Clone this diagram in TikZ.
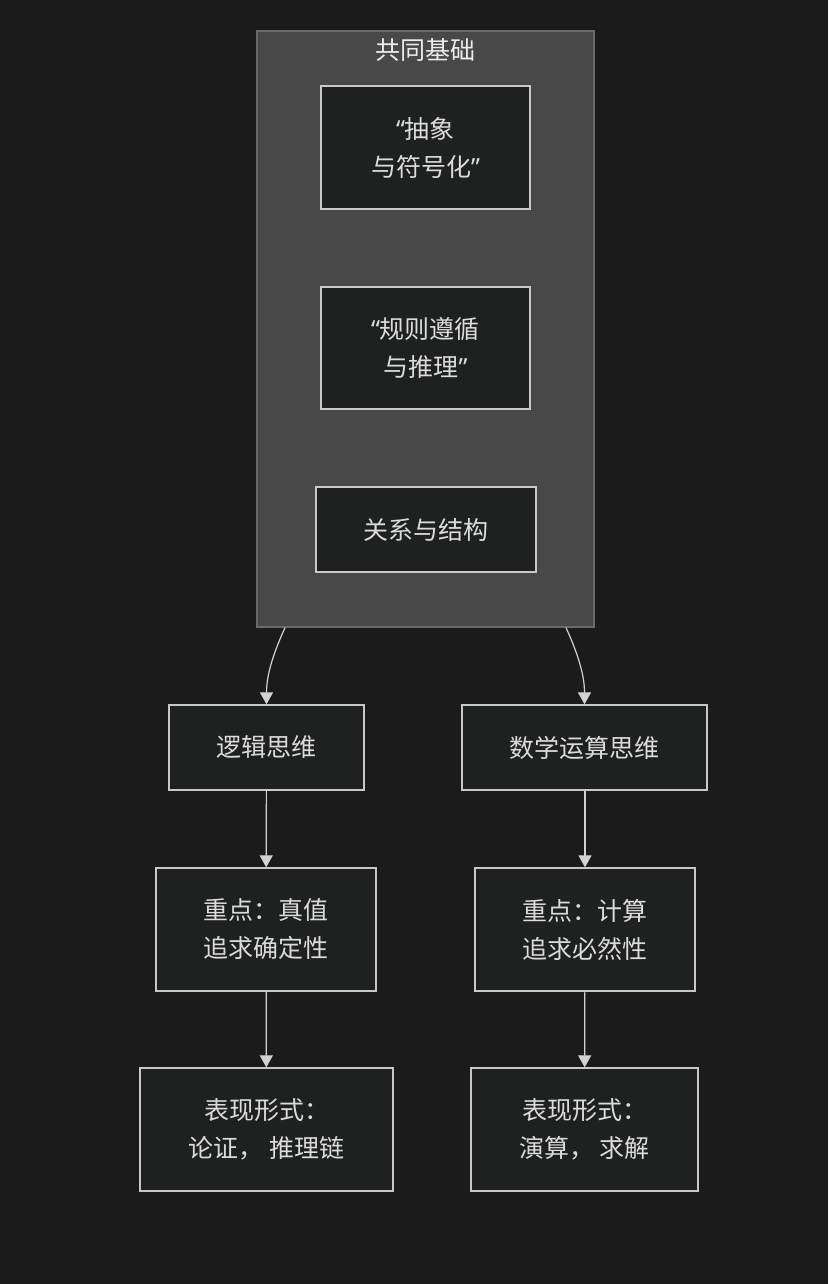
\documentclass[tikz,border=0pt]{standalone}
\usepackage{fontspec}
\setmainfont{Noto Sans CJK SC}
\newfontfamily\quotefont{Noto Sans}
\newcommand{\openq}{{\quotefont “}}
\newcommand{\closeq}{{\quotefont ”}}
\usetikzlibrary{arrows.meta}
\definecolor{bg}{HTML}{1B1B1B}
\definecolor{clusterfill}{HTML}{474847}
\definecolor{clusterline}{HTML}{6A6A6A}
\definecolor{boxfill}{HTML}{1F2020}
\definecolor{boxline}{HTML}{C8C8C8}
\definecolor{txt}{HTML}{DCDCDC}
\definecolor{linkcol}{HTML}{D2D2D2}
\begin{document}
\begin{tikzpicture}[x=1pt, y=-1pt,
    every node/.style={font=\fontsize{25}{38}\selectfont, text=txt},
    box/.style={draw=boxline, line width=1.3pt, fill=boxfill, align=center, inner sep=0pt},
    link/.style={-{Triangle[width=13pt,length=12pt]}, draw=linkcol, line width=1.2pt}]
  \fill[bg] (0,0) rectangle (828,1284);
  % gemeinsame Basis als Gruppe
  \node[draw=clusterline, fill=clusterfill, line width=1.3pt,
        minimum width=337pt, minimum height=596pt, inner sep=0pt] (base) at (425.5,329) {};
  \node[text=white!92!black] (basetitle) at (425.5,50) {共同基础};
  \node[box, minimum width=209pt, minimum height=123pt] (abstr) at (425.5,147.5) {\openq 抽象\\与符号化\closeq};
  \node[box, minimum width=209pt, minimum height=122pt] (rules) at (425.5,348) {\openq 规则遵循\\与推理\closeq};
  \node[box, minimum width=220pt, minimum height=85pt] (rel) at (426,529.5) {关系与结构};
  % zwei Zweige
  \node[box, minimum width=195pt, minimum height=85pt] (logic) at (266.5,747.5) {逻辑思维};
  \node[box, minimum width=245pt, minimum height=85pt] (math) at (584.5,747.5) {数学运算思维};
  \node[box, minimum width=220pt, minimum height=123pt] (lfocus) at (266,929.5) {重点：真值\\追求确定性};
  \node[box, minimum width=220pt, minimum height=123pt] (mfocus) at (585,929.5) {重点：计算\\追求必然性};
  \node[box, minimum width=253pt, minimum height=123pt] (lform) at (266.5,1129.5) {表现形式：\\论证， 推理链};
  \node[box, minimum width=227pt, minimum height=123pt] (mform) at (584.5,1129.5) {表现形式：\\演算， 求解};
  % Verbindungen
  \draw[link] ([xshift=-140.5pt]base.south) .. controls ++(-15,33) and ++(0,-25) .. (logic.north);
  \draw[link] ([xshift=140.5pt]base.south) .. controls ++(15,33) and ++(0,-25) .. (math.north);
  \draw[link] (logic) -- (lfocus);
  \draw[link] (lfocus) -- (lform);
  \draw[link] (math.south -| mfocus) -- (mfocus);
  \draw[link] (mfocus) -- (mform);
\end{tikzpicture}
\end{document}
